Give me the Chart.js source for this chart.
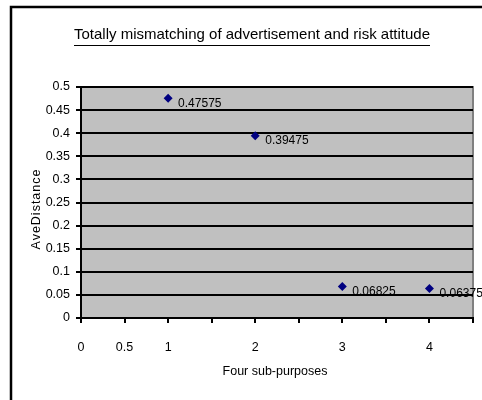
<!DOCTYPE html>
<html>
<head>
<meta charset="utf-8">
<script src="https://cdn.jsdelivr.net/npm/chart.js@4/dist/chart.umd.min.js"></script>
<style>
html,body{margin:0;padding:0;background:#fff;overflow:hidden;}
#wrap{position:absolute;left:0;top:0;width:482px;height:400px;}
</style>
</head>
<body>
<div id="wrap"><canvas id="c" width="482" height="400"></canvas></div>
<script>
const titleText = "Totally mismatching of advertisement and risk attitude";
const xTitle = "Four sub-purposes";
const yTitle = "AveDistance";
const xValues = [1, 2, 3, 4];
const yValues = [0.47575, 0.39475, 0.06825, 0.06375];
const pointLabels = ["0.47575", "0.39475", "0.06825", "0.06375"];
const xShownTicks = [0, 0.5, 1, 2, 3, 4];

const FONT = "'Liberation Sans Narrow', 'Arial Narrow', 'Liberation Sans', Arial, sans-serif";

const framePlugin = {
  id: 'frame',
  beforeDraw(chart) {
    const ctx = chart.ctx, a = chart.chartArea;
    ctx.save();
    ctx.fillStyle = '#fff';
    ctx.fillRect(0, 0, chart.width, chart.height);
    ctx.strokeStyle = '#000';
    ctx.lineWidth = 2.5;
    ctx.strokeRect(11, 7, 600, 600);
    ctx.fillStyle = '#c0c0c0';
    ctx.fillRect(a.left, a.top, a.right - a.left, a.bottom - a.top);
    ctx.strokeStyle = '#808080';
    ctx.lineWidth = 2;
    ctx.beginPath();
    ctx.moveTo(a.left, a.top);
    ctx.lineTo(a.right, a.top);
    ctx.lineTo(a.right, a.bottom);
    ctx.stroke();
    // title
    ctx.fillStyle = '#000';
    ctx.font = "15px " + FONT;
    ctx.textAlign = 'center';
    ctx.textBaseline = 'middle';
    const tx = 252, ty = 35;
    ctx.fillText(titleText, tx, ty);
    const w = ctx.measureText(titleText).width;
    ctx.fillRect(Math.round(tx - w / 2), 45, Math.round(w), 1);
    // axis titles
    ctx.font = "12.5px " + FONT;
    ctx.fillText(xTitle, 275, 372);
    ctx.save();
    ctx.translate(37, 209);
    ctx.rotate(-Math.PI / 2);
    ctx.letterSpacing = '1px';
    ctx.fillText(yTitle, 0, 0);
    ctx.restore();
    ctx.restore();
  },
  afterDatasetsDraw(chart) {
    const ctx = chart.ctx;
    const meta = chart.getDatasetMeta(0);
    ctx.save();
    ctx.fillStyle = '#000';
    ctx.font = "12px " + FONT;
    ctx.textAlign = 'left';
    ctx.textBaseline = 'middle';
    meta.data.forEach((pt, i) => {
      ctx.fillText(pointLabels[i], pt.x + 10, pt.y + 5);
    });
    ctx.restore();
  }
};

new Chart(document.getElementById('c'), {
  type: 'scatter',
  data: {
    datasets: [{
      data: xValues.map((x, i) => ({ x: x, y: yValues[i] })),
      pointStyle: 'rectRot',
      pointRadius: 4.5,
      pointHoverRadius: 4.5,
      backgroundColor: '#000080',
      borderColor: '#000080',
      borderWidth: 0,
      clip: false
    }]
  },
  options: {
    responsive: false,
    devicePixelRatio: 1,
    animation: false,
    events: [],
    layout: { autoPadding: false, padding: { left: 0, right: 9, top: 87, bottom: 0 } },
    plugins: { legend: { display: false }, tooltip: { enabled: false }, title: { display: false } },
    scales: {
      x: {
        type: 'linear',
        min: 0, max: 4.5,
        afterFit(s) { s.height = 82; s.paddingLeft = 0; s.paddingRight = 0; },
        border: { display: true, color: '#000', width: 2 },
        grid: { drawOnChartArea: false, drawTicks: true, tickLength: 5, color: '#000', lineWidth: 2 },
        ticks: {
          stepSize: 0.5,
          autoSkip: false,
          maxRotation: 0,
          padding: 17,
          color: '#000',
          font: { family: FONT, size: 12.5 },
          callback(v) {
            const r = Math.round(v * 100) / 100;
            return xShownTicks.includes(r) ? String(r) : '';
          }
        }
      },
      y: {
        type: 'linear',
        min: 0, max: 0.5,
        afterFit(s) { s.width = 81; s.paddingTop = 0; s.paddingBottom = 0; },
        border: { display: true, color: '#000', width: 2 },
        grid: { drawOnChartArea: true, drawTicks: true, tickLength: 5, color: '#000', lineWidth: 2 },
        ticks: {
          stepSize: 0.05,
          padding: 6,
          color: '#000',
          font: { family: FONT, size: 12.5 },
          callback(v) { return String(Math.round(v * 100) / 100); }
        }
      }
    }
  },
  plugins: [framePlugin]
});
</script>
</body>
</html>
